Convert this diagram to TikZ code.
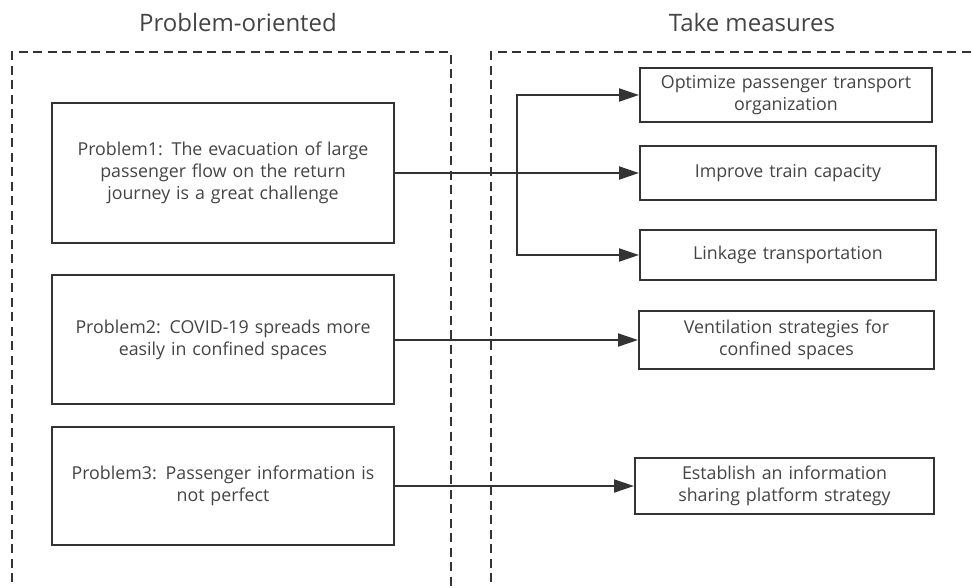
\documentclass[tikz,border=0pt]{standalone}
\usepackage{fontspec}
\setmainfont{Open Sans}
\usetikzlibrary{arrows.meta}
\definecolor{linec}{HTML}{333333}
\definecolor{textc}{HTML}{444444}
\tikzset{
  box/.style={draw=linec, line width=2pt, fill=white, text=textc, align=center,
    font=\fontsize{17.8}{22}\selectfont, inner sep=0pt},
  frame/.style={draw=linec, line width=2.2pt, dash pattern=on 9pt off 5.5pt},
  title/.style={text=textc, font=\fontsize{24}{28}\selectfont},
  arr/.style={draw=linec, line width=2pt, -{Triangle[length=20pt,width=13pt]}},
  conn/.style={draw=linec, line width=2pt}
}
\begin{document}
\begin{tikzpicture}[x=1pt,y=-1pt]
\useasboundingbox (0,0) rectangle (972,587);
\clip (0,0) rectangle (972,587);
\draw[frame] (12,640) -- (12,52) -- (451,52) -- (451,640);
\draw[frame] (491,640) -- (491,52) -- (1000,52);
\node[title] (t1) at (238,22) {Problem-oriented};
\node[title] (t2) at (752,22) {Take measures};
\node[box, minimum width=342pt, minimum height=140pt, text width=330pt] (p1) at (223,173)
  {Problem1: The evacuation of large\\passenger flow on the return\\journey is a great challenge};
\node[box, minimum width=342pt, minimum height=129pt, text width=330pt] (p2) at (223,339.5)
  {Problem2: COVID-19 spreads more\\easily in confined spaces};
\node[box, minimum width=342pt, minimum height=118pt, text width=330pt] (p3) at (223,486)
  {Problem3: Passenger information is\\not perfect};
\node[box, minimum width=292pt, minimum height=54pt, text width=285pt] (m1) at (786,95)
  {Optimize passenger transport\\organization};
\node[box, minimum width=296pt, minimum height=54pt, text width=285pt] (m2) at (788,173)
  {Improve train capacity};
\node[box, minimum width=296pt, minimum height=50pt, text width=285pt] (m3) at (788,255)
  {Linkage transportation};
\node[box, minimum width=295pt, minimum height=58pt, text width=285pt] (m4) at (786.5,340)
  {Ventilation strategies for\\confined spaces};
\node[box, minimum width=299pt, minimum height=56pt, text width=285pt] (m5) at (784.5,486)
  {Establish an information\\sharing platform strategy};
\coordinate (br) at (517,173);
\draw[arr] (p1.east) -- (m2.west);
\draw[arr] (br) |- (m1.west);
\draw[arr] (br) |- (m3.west);
\draw[arr] (p2.east |- m4.west) -- (m4.west);
\draw[arr] (p3.east) -- (m5.west);
\end{tikzpicture}
\end{document}
